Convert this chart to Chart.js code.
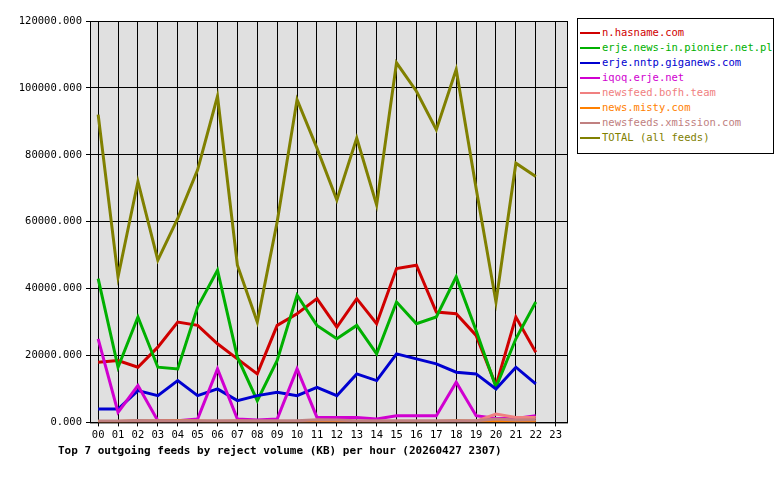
<!DOCTYPE html>
<html><head><meta charset="utf-8">
<script src="https://cdn.jsdelivr.net/npm/chart.js@4"></script>
<style>
body{margin:0;background:#fff;font-family:"DejaVu Sans Mono",monospace;}
#wrap{position:absolute;left:0;top:0;width:575px;height:470px;}
#legend{position:absolute;left:577px;top:18px;width:197px;height:136px;border:1px solid #000;font-size:10.5px;padding-top:6px;box-sizing:border-box;}
#legend div{height:15px;line-height:15px;white-space:nowrap;}
#legend span.m{display:inline-block;width:20px;height:2px;vertical-align:middle;margin:0 2px 0 2px;}
#title{position:absolute;left:58px;top:444px;font-size:11px;font-weight:bold;color:#000;white-space:nowrap;}
</style></head><body>
<div id="wrap"><canvas id="c"></canvas></div>
<div id="legend"></div>
<div id="title">Top 7 outgoing feeds by reject volume (KB) per hour (20260427 2307)</div>
<script>
var hours = ['00','01','02','03','04','05','06','07','08','09','10','11','12','13','14','15','16','17','18','19','20','21','22','23'];
var names = ['n.hasname.com','erje.news-in.pionier.net.pl','erje.nntp.giganews.com','iqoq.erje.net','newsfeed.bofh.team','news.misty.com','newsfeeds.xmission.com','TOTAL (all feeds)'];
var colors = ['#d00000','#00b000','#0000d0','#d000d0','#f08080','#ff8000','#c08080','#808000'];
var hasname = [18000,18500,16500,22500,30000,29000,23500,19000,14500,29000,32500,37000,28500,37000,29500,46000,47000,33000,32500,26000,11000,31500,21000];
var pionier = [43000,16500,31500,16500,16000,34500,45500,19500,6500,18500,38000,29000,25000,29000,20500,36000,29500,31500,43500,27500,10500,25000,36000];
var giganews = [4000,4000,9500,8000,12500,8000,10000,6500,8000,9000,8000,10500,8000,14500,12500,20500,19000,17500,15000,14500,10000,16500,11500];
var iqoq = [25000,3000,11000,500,500,1000,16000,1000,700,1000,16000,1500,1500,1500,1000,2000,2000,2000,12000,2000,1200,1200,2000];
var bofh = [200,200,300,200,200,200,200,200,200,200,300,300,300,300,300,300,300,300,300,400,2500,1500,1500];
var misty = [300,300,500,400,600,400,300,400,300,300,200,500,400,300,300,300,300,300,500,300,300,300,300];
var xmission = [400,400,600,500,500,500,500,500,500,500,500,800,700,500,500,500,500,500,500,500,1000,700,800];
var total = [92000,43500,72000,48500,61000,75500,97500,47000,30000,60000,96500,82000,66500,85000,65000,107500,99000,87500,105500,70000,36000,77500,73500];
var series = [hasname,pionier,giganews,iqoq,bofh,misty,xmission,total];
var yTicks = [0,20000,40000,60000,80000,100000,120000];

var datasets = series.map(function(s,i){
  return {
    label: names[i],
    data: s.map(function(v,j){ return {x:j,y:v}; }),
    borderColor: colors[i], backgroundColor: colors[i],
    borderWidth: 3, pointRadius: 0, tension: 0,
    order: 10 - i
  };
});

// plot background + frame
var bg = {id:'bg', beforeDraw:function(ch){
  var a = ch.chartArea, c = ch.ctx;
  c.save(); c.fillStyle = '#e0e0e0'; c.fillRect(a.left,a.top,a.right-a.left,a.bottom-a.top); c.restore();
}, afterDraw:function(ch){
  var a = ch.chartArea, c = ch.ctx;
  c.save(); c.strokeStyle='#000'; c.lineWidth=1; c.strokeRect(a.left+0.5,a.top+0.5,a.right-a.left,a.bottom-a.top); c.restore();
}};

var font = {family:'"DejaVu Sans Mono", monospace', size:10.5};
new Chart(document.getElementById('c'), {
  type: 'line',
  data: {datasets: datasets},
  plugins: [bg],
  options: {
    responsive: true, maintainAspectRatio: false, animation: false,
    layout: {padding: {left: 0, top: 21, right: 8, bottom: 25}},
    plugins: {legend: {display: false}, tooltip: {enabled: false}},
    scales: {
      x: {type: 'linear', min: -0.41, max: 23.57,
        afterBuildTicks: function(ax){ ax.ticks = hours.map(function(h,i){ return {value:i}; }); },
        ticks: {color: '#000', font: font, autoSkip: false, maxRotation: 0, padding: 3,
          callback: function(v){ return hours[v]; }},
        grid: {color: '#000', lineWidth: 1, tickLength: 4}, border: {color: '#000'}},
      y: {min: 0, max: 120000,
        afterFit: function(ax){ ax.width = 90; },
        afterBuildTicks: function(ax){ ax.ticks = yTicks.map(function(v){ return {value:v}; }); },
        ticks: {color: '#000', font: font, padding: 4,
          callback: function(v){ return v.toFixed(3); }},
        grid: {color: '#000', lineWidth: 1, tickLength: 4}, border: {color: '#000'}}
    }
  }
});

var lg = document.getElementById('legend');
names.forEach(function(n,i){
  var d = document.createElement('div');
  d.style.color = colors[i];
  d.innerHTML = '<span class="m" style="background:'+colors[i]+'"></span>' + n;
  lg.appendChild(d);
});
</script>
</body></html>
